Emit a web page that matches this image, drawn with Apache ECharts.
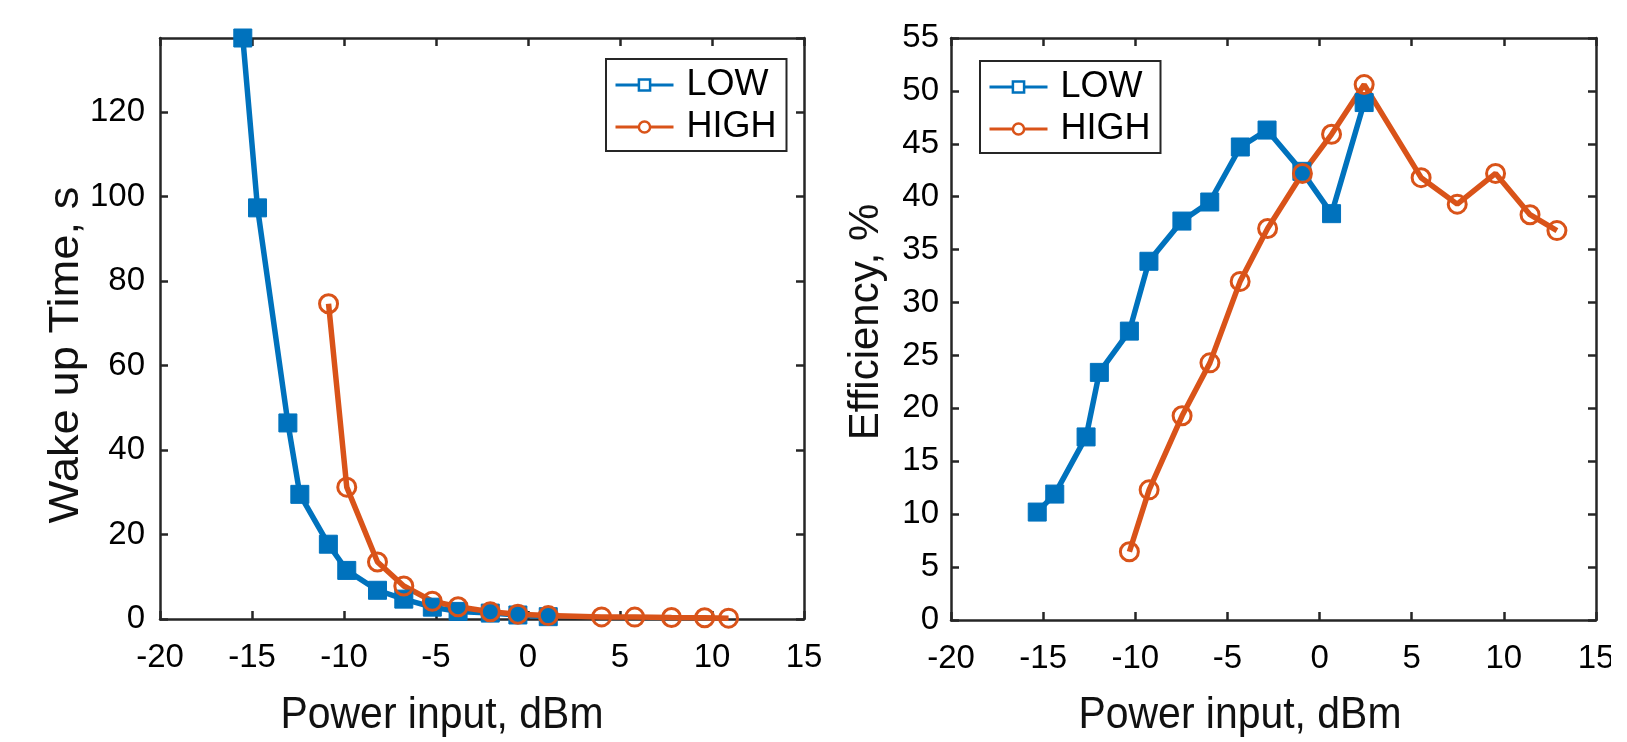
<!DOCTYPE html>
<html>
<head>
<meta charset="utf-8">
<title>Wake up time and efficiency</title>
<script src="https://cdn.jsdelivr.net/npm/echarts@6/dist/echarts.min.js"></script>
<style>
    html, body { margin: 0; padding: 0; background: #fff; }
    #main { width: 1627px; height: 742px; }
</style>
</head>
<body>
<div id="main"></div>
<script>
// left panel: wake up time (s) vs power input (dBm)
var wakeLowX  = [-15.5, -14.7, -13.05, -12.4, -10.85, -9.85, -8.18, -6.75, -5.2, -3.8, -2.05, -0.55, 1.1];
var wakeLowY  = [137.5, 97.3, 46.4, 29.5, 17.7, 11.5, 6.8, 4.7, 2.8, 1.8, 1.4, 0.95, 0.55];
var wakeHighX = [-10.84, -9.85, -8.18, -6.75, -5.2, -3.8, -2.05, -0.55, 1.1, 4.0, 5.8, 7.8, 9.6, 10.9];
var wakeHighY = [74.6, 31.2, 13.5, 7.8, 4.2, 2.9, 1.7, 1.15, 0.8, 0.5, 0.45, 0.35, 0.3, 0.2];

// right panel: efficiency (%) vs power input (dBm)
var effLowX  = [-15.32, -14.37, -12.67, -11.95, -10.32, -9.26, -7.47, -5.96, -4.3, -2.85, -0.96, 0.65, 2.42];
var effLowY  = [10.2, 11.9, 17.3, 23.4, 27.3, 33.9, 37.7, 39.5, 44.7, 46.3, 42.4, 38.4, 48.9];
var effHighX = [-10.32, -9.25, -7.46, -5.95, -4.31, -2.82, -0.93, 0.65, 2.42, 5.51, 7.47, 9.55, 11.42, 12.88];
var effHighY = [6.45, 12.3, 19.3, 24.3, 32.0, 37.0, 42.2, 45.9, 50.6, 41.8, 39.3, 42.2, 38.3, 36.8];

var seriesNames = ['LOW', 'HIGH'];
var xTitle = 'Power input, dBm';
var wakeTitle = 'Wake up Time, s';
var effTitle = 'Efficiency, %';

var BLUE = '#0072BD';
var ORANGE = '#D95319';
var AXIS = '#262626';
var FONT = "'Liberation Sans', Arial, sans-serif";

var chart = echarts.init(document.getElementById('main'));

function pairs(xs, ys) {
    var out = [];
    for (var i = 0; i < xs.length; i++) {
        out.push([xs[i], ys[i]]);
    }
    return out;
}

function xAxisFor(grid, top) {
    return {
        type: 'value',
        gridIndex: grid,
        position: top ? 'top' : 'bottom',
        min: -20, max: 15, interval: 5,
        axisLine: { show: true, onZero: false, lineStyle: { color: AXIS, width: 2.5 } },
        axisTick: { show: true, inside: true, length: 8, lineStyle: { color: AXIS, width: 2.5 } },
        axisLabel: { show: !top, margin: 22, color: '#000', fontSize: 33, fontFamily: FONT },
        splitLine: { show: false }
    };
}

function yAxisFor(grid, right, max, interval, margin) {
    return {
        type: 'value',
        gridIndex: grid,
        position: right ? 'right' : 'left',
        min: 0, max: max, interval: interval,
        axisLine: { show: true, onZero: false, lineStyle: { color: AXIS, width: 2.5 } },
        axisTick: { show: true, inside: true, length: 8, lineStyle: { color: AXIS, width: 2.5 } },
        axisLabel: { show: !right, margin: margin, color: '#000', fontSize: 33, fontFamily: FONT,
                     showMaxLabel: max % interval === 0 },
        splitLine: { show: false }
    };
}

function lowSeries(x, y, data) {
    return {
        name: seriesNames[0], type: 'line', xAxisIndex: x, yAxisIndex: y,
        data: data, clip: false,
        symbol: 'rect', symbolSize: 18,
        itemStyle: { color: BLUE, borderColor: BLUE, borderWidth: 1 },
        lineStyle: { color: BLUE, width: 5.5 },
        emphasis: { disabled: true }
    };
}

function highSeries(x, y, data) {
    return {
        name: seriesNames[1], type: 'line', xAxisIndex: x, yAxisIndex: y,
        data: data, clip: false,
        symbol: 'circle', symbolSize: 18,
        itemStyle: { color: 'rgba(255,255,255,0)', borderColor: ORANGE, borderWidth: 3 },
        lineStyle: { color: ORANGE, width: 5.5 },
        emphasis: { disabled: true }
    };
}

function legendAt(left, top) {
    return {
        data: seriesNames,
        orient: 'vertical',
        left: left, top: top,
        padding: [8, 10, 6, 8],
        itemGap: 6,
        itemWidth: 58, itemHeight: 14,
        backgroundColor: '#fff',
        borderColor: AXIS, borderWidth: 2,
        lineStyle: { width: 3 },
        itemStyle: { color: '#fff', borderWidth: 2.5 },
        textStyle: { color: '#000', fontSize: 36, fontFamily: FONT, padding: [0, 0, 0, 8] },
        selectedMode: false
    };
}

function title(text, x, y, rot, size, sx) {
    return {
        type: 'text', x: x, y: y, rotation: rot, scaleX: sx,
        style: { text: text, font: size + 'px ' + FONT, fill: '#111', textAlign: 'center', textVerticalAlign: 'middle' }
    };
}

var option = {
    animation: false,
    backgroundColor: '#fff',
    grid: [
        { left: 160, top: 38, width: 644, height: 581 },
        { left: 951, top: 38, width: 645, height: 582 }
    ],
    xAxis: [xAxisFor(0, false), xAxisFor(0, true), xAxisFor(1, false), xAxisFor(1, true)],
    yAxis: [
        yAxisFor(0, false, 137.5, 20, 15),
        yAxisFor(0, true, 137.5, 20, 15),
        yAxisFor(1, false, 55, 5, 12),
        yAxisFor(1, true, 55, 5, 12)
    ],
    legend: [legendAt(606, 59), legendAt(980, 61)],
    series: [
        lowSeries(0, 0, pairs(wakeLowX, wakeLowY)),
        highSeries(0, 0, pairs(wakeHighX, wakeHighY)),
        lowSeries(2, 2, pairs(effLowX, effLowY)),
        highSeries(2, 2, pairs(effHighX, effHighY))
    ],
    graphic: [
        title(xTitle, 442, 716, 0, 44, 0.93),
        title(xTitle, 1240, 716, 0, 44, 0.93),
        title(wakeTitle, 66, 355, Math.PI / 2, 42, 1.08),
        title(effTitle, 866, 322, Math.PI / 2, 42, 1),
        // the reference image is cut just right of the last tick label
        { type: 'rect', x: 1611, y: 628, z: 100, shape: { width: 16, height: 70 }, style: { fill: '#fff' } }
    ]
};

chart.setOption(option);
</script>
</body>
</html>
